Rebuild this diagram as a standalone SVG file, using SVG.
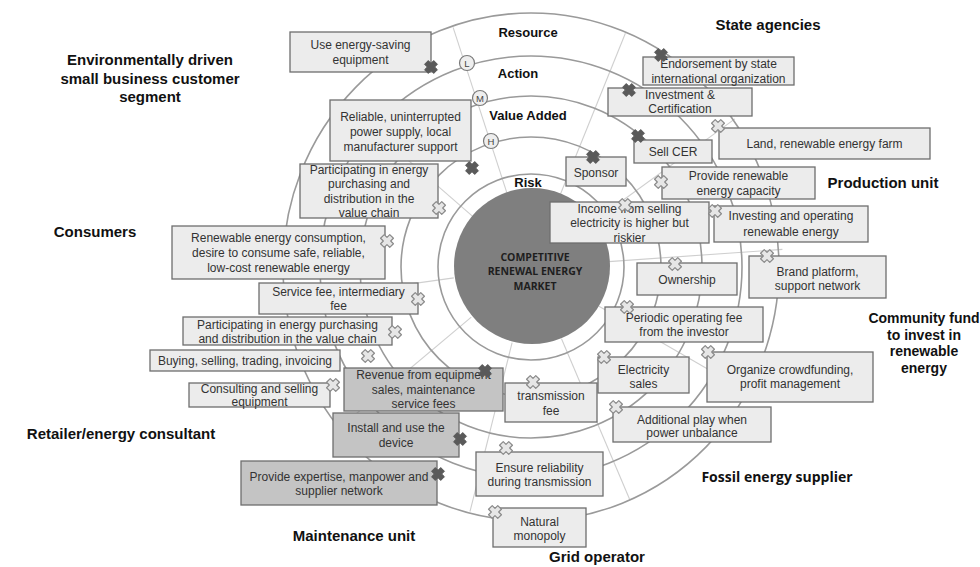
<svg xmlns="http://www.w3.org/2000/svg" xmlns:xlink="http://www.w3.org/1999/xlink" width="980" height="567" viewBox="0 0 980 567">
<style>
.ring{fill:none;stroke:#9a9a9a;stroke-width:1.6}
.spoke{stroke:#cfcfcf;stroke-width:1.1;fill:none}
.b{fill:#ececec;stroke:#6e6e6e;stroke-width:1.3}
.bd{fill:#c4c4c4;stroke:#6e6e6e;stroke-width:1.3}
.t{font-family:"Liberation Sans",Arial,sans-serif;font-size:12px;fill:#333;text-anchor:middle}
.lab{font-family:"Liberation Sans",Arial,sans-serif;font-size:15px;font-weight:bold;fill:#111;text-anchor:middle}
.rl{font-family:"Liberation Sans",Arial,sans-serif;font-size:13px;font-weight:bold;fill:#111;text-anchor:middle}
.xd{fill:#5a5a5a;stroke:#5a5a5a;stroke-width:1;stroke-linejoin:round}
.xl{fill:#e6e6e6;stroke:#8a8a8a;stroke-width:1.2;stroke-linejoin:round}
.lvl{fill:#eeeeee;stroke:#7a7a7a;stroke-width:1.2}
.lt{font-family:"Liberation Sans",Arial,sans-serif;font-size:9.5px;fill:#444;text-anchor:middle}
.ct{font-family:"Open Sans","Liberation Sans",sans-serif;font-size:10.5px;font-weight:bold;fill:#1e1e1e;text-anchor:middle}
</style>
<defs>
<path id="x" d="M2.76,-6.44 L6.44,-2.76 L3.68,0 L6.44,2.76 L2.76,6.44 L0,3.68 L-2.76,6.44 L-6.44,2.76 L-3.68,0 L-6.44,-2.76 L-2.76,-6.44 L0,-3.68Z"/>
</defs>
<rect width="980" height="567" fill="#ffffff"/>
<g id="connectors">
<line class="spoke" x1="472.1" y1="215.8" x2="340.8" y2="101.7"/>
<line class="spoke" x1="506.9" y1="192.8" x2="453.1" y2="27.3"/>
<line class="spoke" x1="560.2" y1="194.7" x2="625.4" y2="33.3"/>
<line class="spoke" x1="594.1" y1="221.2" x2="734.9" y2="118.9"/>
<line class="spoke" x1="608.8" y1="261.6" x2="782.4" y2="249.4"/>
<line class="spoke" x1="598.5" y1="306" x2="749.2" y2="393"/>
<line class="spoke" x1="561.5" y1="338.8" x2="629.5" y2="499"/>
<line class="spoke" x1="512.1" y1="342.7" x2="470" y2="511.5"/>
<line class="spoke" x1="471.3" y1="317.1" x2="338" y2="429"/>
<line class="spoke" x1="453.8" y1="277.9" x2="281.4" y2="302.1"/>
<ellipse class="ring" cx="531" cy="267" rx="248" ry="254"/>
<circle class="ring" cx="531" cy="267" r="211"/>
<circle class="ring" cx="531" cy="267" r="171"/>
<circle class="ring" cx="531" cy="267" r="130"/>
<circle class="ring" cx="531" cy="267" r="93"/>
</g>
<g id="market">
<circle cx="532" cy="266" r="78" fill="#7f7f7f"/>
<text class="ct" x="535" y="261">COMPETITIVE</text>
<text class="ct" x="535" y="275">RENEWAL ENERGY</text>
<text class="ct" x="535" y="290">MARKET</text>
</g>
<g id="levels">
<text class="rl" x="528" y="37">Resource</text>
<text class="rl" x="518" y="78">Action</text>
<text class="rl" x="528" y="120">Value Added</text>
<text class="rl" x="528" y="187">Risk</text>
<g id="level-L"><circle class="lvl" cx="467" cy="63" r="7.5"/><text class="lt" x="467" y="66.5">L</text></g>
<g id="level-M"><circle class="lvl" cx="480" cy="98" r="7.5"/><text class="lt" x="480" y="101.5">M</text></g>
<g id="level-H"><circle class="lvl" cx="491" cy="141" r="7.5"/><text class="lt" x="491" y="144.5">H</text></g>
</g>
<g id="actors">
<text class="lab" x="150" y="65">Environmentally driven</text>
<text class="lab" x="150" y="84">small business customer</text>
<text class="lab" x="150" y="102">segment</text>
<text class="lab" x="95" y="237">Consumers</text>
<text class="lab" x="121" y="439">Retailer/energy consultant</text>
<text class="lab" x="354" y="541">Maintenance unit</text>
<text class="lab" x="597" y="562">Grid operator</text>
<text x="777" y="482" style="font-family:'Open Sans','Liberation Sans',sans-serif;font-size:14px;font-weight:bold;fill:#111;text-anchor:middle">Fossil energy supplier</text>
<text class="lab" x="924" y="323" style="font-size:14px">Community fund</text>
<text class="lab" x="924" y="340" style="font-size:14px">to invest in</text>
<text class="lab" x="924" y="356" style="font-size:14px">renewable</text>
<text class="lab" x="924" y="373" style="font-size:14px">energy</text>
<text class="lab" x="883" y="188">Production unit</text>
<text class="lab" x="768" y="30">State agencies</text>
</g>
<g id="n1"><rect class="b" x="290" y="32" width="141" height="40"/><text class="t" x="360.5" y="49">Use energy-saving</text><text class="t" x="360.5" y="64">equipment</text><use xlink:href="#x" class="xd" x="431" y="67"/></g>
<g id="n2"><rect class="b" x="330" y="100" width="141" height="61"/><text class="t" x="400.5" y="121">Reliable, uninterrupted</text><text class="t" x="400.5" y="136">power supply, local</text><text class="t" x="400.5" y="151">manufacturer support</text><use xlink:href="#x" class="xd" x="472" y="168"/></g>
<g id="n3"><rect class="b" x="300" y="164" width="138" height="54"/><text class="t" x="369" y="174">Participating in energy</text><text class="t" x="369" y="188">purchasing and</text><text class="t" x="369" y="203">distribution in the</text><text class="t" x="369" y="217">value chain</text><use xlink:href="#x" class="xl" x="439" y="208"/></g>
<g id="n4"><rect class="b" x="172" y="226" width="213" height="53"/><text class="t" x="278.5" y="242">Renewable energy consumption,</text><text class="t" x="278.5" y="257">desire to consume safe, reliable,</text><text class="t" x="278.5" y="272">low-cost renewable energy</text><use xlink:href="#x" class="xl" x="387" y="241"/></g>
<g id="n5"><rect class="b" x="259" y="283" width="159" height="31"/><text class="t" x="338.5" y="296">Service fee, intermediary</text><text class="t" x="338.5" y="310">fee</text><use xlink:href="#x" class="xl" x="418" y="299"/></g>
<g id="n6"><rect class="b" x="183" y="317" width="209" height="28"/><text class="t" x="287.5" y="329">Participating in energy purchasing</text><text class="t" x="287.5" y="343">and distribution in the value chain</text><use xlink:href="#x" class="xl" x="395" y="332"/></g>
<g id="n7"><rect class="b" x="150" y="350" width="190" height="21"/><text class="t" x="245" y="365">Buying, selling, trading, invoicing</text><use xlink:href="#x" class="xl" x="368" y="356"/></g>
<g id="n8"><rect class="b" x="189" y="383" width="141" height="24"/><text class="t" x="259.5" y="393">Consulting and selling</text><text class="t" x="259.5" y="406">equipment</text><use xlink:href="#x" class="xl" x="333" y="385"/></g>
<g id="n9"><rect class="bd" x="344" y="368" width="159" height="43"/><text class="t" x="423.5" y="379">Revenue from equipment</text><text class="t" x="423.5" y="394">sales, maintenance</text><text class="t" x="423.5" y="408">service fees</text><use xlink:href="#x" class="xd" x="485" y="371"/></g>
<g id="n10"><rect class="bd" x="333" y="413" width="126" height="44"/><text class="t" x="396" y="432">Install and use the</text><text class="t" x="396" y="447">device</text><use xlink:href="#x" class="xd" x="460" y="439"/></g>
<g id="n11"><rect class="bd" x="241" y="461" width="196" height="44"/><text class="t" x="339" y="481">Provide expertise, manpower and</text><text class="t" x="339" y="495">supplier network</text><use xlink:href="#x" class="xd" x="438" y="474"/></g>
<g id="n12"><rect class="b" x="476" y="452" width="127" height="44"/><text class="t" x="539.5" y="472">Ensure reliability</text><text class="t" x="539.5" y="486">during transmission</text><use xlink:href="#x" class="xl" x="506" y="448"/></g>
<g id="n13"><rect class="b" x="493" y="508" width="93" height="39"/><text class="t" x="539.5" y="526">Natural</text><text class="t" x="539.5" y="540">monopoly</text><use xlink:href="#x" class="xl" x="495" y="512"/></g>
<g id="n14"><rect class="b" x="505" y="383" width="92" height="39"/><text class="t" x="551" y="400">transmission</text><text class="t" x="551" y="415">fee</text><use xlink:href="#x" class="xl" x="533" y="382"/></g>
<g id="n15"><rect class="b" x="598" y="357" width="91" height="36"/><text class="t" x="643.5" y="374">Electricity</text><text class="t" x="643.5" y="388">sales</text><use xlink:href="#x" class="xl" x="604" y="357"/></g>
<g id="n16"><rect class="b" x="613" y="407" width="158" height="35"/><text class="t" x="692" y="424">Additional play when</text><text class="t" x="692" y="437">power unbalance</text><use xlink:href="#x" class="xl" x="616" y="407"/></g>
<g id="n17"><rect class="b" x="707" y="352" width="166" height="50"/><text class="t" x="790" y="374">Organize crowdfunding,</text><text class="t" x="790" y="388">profit management</text><use xlink:href="#x" class="xl" x="708" y="352"/></g>
<g id="n18"><rect class="b" x="605" y="307" width="158" height="35"/><text class="t" x="684" y="322">Periodic operating fee</text><text class="t" x="684" y="336">from the investor</text><use xlink:href="#x" class="xl" x="627" y="307"/></g>
<g id="n19"><rect class="b" x="637" y="263" width="100" height="32"/><text class="t" x="687" y="284">Ownership</text><use xlink:href="#x" class="xl" x="675" y="264"/></g>
<g id="n20"><rect class="b" x="749" y="256" width="137" height="42"/><text class="t" x="817.5" y="276">Brand platform,</text><text class="t" x="817.5" y="290">support network</text><use xlink:href="#x" class="xl" x="767" y="256"/></g>
<g id="n21"><rect class="b" x="550" y="202" width="159" height="41"/><text class="t" x="629.5" y="213">Income from selling</text><text class="t" x="629.5" y="227">electricity is higher but</text><text class="t" x="629.5" y="242">riskier</text><use xlink:href="#x" class="xl" x="625" y="205"/></g>
<g id="n22"><rect class="b" x="714" y="206" width="154" height="36"/><text class="t" x="791" y="220">Investing and operating</text><text class="t" x="791" y="236">renewable energy</text><use xlink:href="#x" class="xl" x="715" y="211"/></g>
<g id="n23"><rect class="b" x="662" y="167" width="153" height="32"/><text class="t" x="738.5" y="180">Provide renewable</text><text class="t" x="738.5" y="195">energy capacity</text><use xlink:href="#x" class="xl" x="661" y="182"/></g>
<g id="n24"><rect class="b" x="719" y="128" width="211" height="31"/><text class="t" x="824.5" y="148">Land, renewable energy farm</text><use xlink:href="#x" class="xl" x="718" y="126"/></g>
<g id="n25"><rect class="b" x="634" y="140" width="78" height="23"/><text class="t" x="673" y="156">Sell CER</text><use xlink:href="#x" class="xd" x="638" y="136"/></g>
<g id="n26"><rect class="b" x="566" y="157" width="60" height="29"/><text class="t" x="596" y="177">Sponsor</text><use xlink:href="#x" class="xd" x="593" y="157"/></g>
<g id="n27"><rect class="b" x="608" y="88" width="144" height="28"/><text class="t" x="680" y="99">Investment &amp;</text><text class="t" x="680" y="113">Certification</text><use xlink:href="#x" class="xd" x="629" y="90"/></g>
<g id="n28"><rect class="b" x="643" y="57" width="151" height="28"/><text class="t" x="718.5" y="68">Endorsement by state</text><text class="t" x="718.5" y="83">international organization</text><use xlink:href="#x" class="xd" x="661" y="55"/></g>
</svg>
